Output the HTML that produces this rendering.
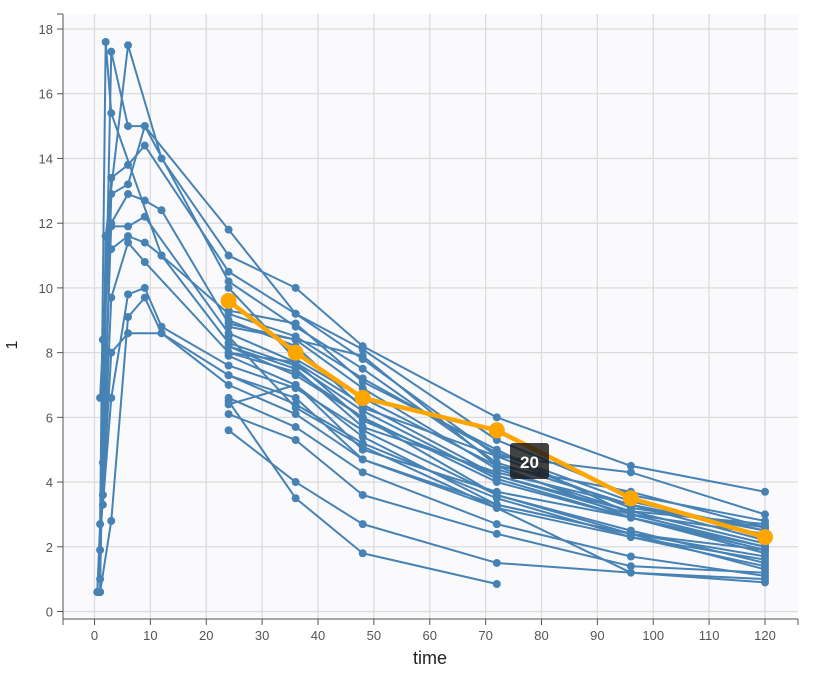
<!DOCTYPE html>
<html><head><meta charset="utf-8"><style>
body{margin:0;background:#fff;font-family:"Liberation Sans",sans-serif}
svg text{font-family:"Liberation Sans",sans-serif}
</style></head><body>
<svg id="chart" width="818" height="675">
<rect x="63" y="14" width="735" height="605" fill="#fafafd"/>
<g id="grid"></g>
<g id="axes"></g>
<g id="series"></g>
<g id="hl"></g>
<g><rect x="510" y="443" width="39" height="36" rx="3" fill="rgba(20,20,20,0.8)"/><text x="529.5" y="468" text-anchor="middle" fill="#fff" font-size="17" font-weight="bold">20</text></g>
<text x="430" y="664" text-anchor="middle" font-size="18" fill="#222">time</text>
<text x="17" y="345" text-anchor="middle" font-size="16" fill="#222" transform="rotate(-90 17 345)">1</text>
</svg>
<script>
const times=[0.5,1,1.5,2,3,6,9,12,24,36,48,72,96,120];
const xTicks=[0,10,20,30,40,50,60,70,80,90,100,110,120];
const yTicks=[0,2,4,6,8,10,12,14,16,18];
const N=null;
const subjects=[
[0.6,2.7,N,17.6,15.4,N,N,11.0,9.2,8.5,7.2,4.9,3.4,2.5],
[N,1.0,N,N,17.3,15.0,15.0,N,11.8,9.2,8.1,5.3,3.6,2.8],
[N,0.6,N,11.6,N,17.5,N,14.0,11.0,10.0,8.2,6.0,4.5,3.7],
[N,6.6,N,N,13.4,13.8,14.4,N,10.5,9.2,7.8,4.8,3.2,2.6],
[N,N,3.6,N,12.9,13.2,15.0,N,10.2,8.8,7.5,4.6,3.3,2.2],
[N,N,4.6,N,12.0,12.9,12.7,12.4,8.9,8.4,6.9,4.4,3.1,2.1],
[N,N,8.4,N,11.9,11.9,12.2,N,8.6,7.7,6.4,4.2,3.0,2.0],
[N,N,N,11.6,11.2,11.6,11.4,11.0,8.3,7.6,6.2,4.1,2.9,1.9],
[N,1.9,N,N,9.7,11.4,10.8,N,8.0,7.4,6.0,4.0,2.9,1.8],
[N,N,3.3,N,6.6,9.8,10.0,8.8,7.6,6.9,5.6,3.6,2.4,1.7],
[N,0.6,N,N,2.8,9.1,9.7,8.6,7.3,6.4,5.2,3.5,2.3,1.4],
[0.6,N,N,N,8.0,8.6,N,8.6,7.0,6.1,4.7,3.3,2.4,1.3],
[N,N,N,N,N,N,N,N,6.6,5.7,4.3,2.7,1.7,1.1],
[N,N,N,N,N,N,N,N,6.4,7.0,5.4,3.3,2.4,1.9],
[N,N,N,N,N,N,N,N,6.1,5.3,3.6,2.4,1.4,1.2],
[N,N,N,N,N,N,N,N,5.6,4.0,2.7,1.5,N,0.9],
[N,N,N,N,N,N,N,N,6.5,3.5,1.8,0.85,N,N],
[N,N,N,N,N,N,N,N,8.8,8.4,7.9,4.5,3.7,2.6],
[N,N,N,N,N,N,N,N,8.0,7.7,5.9,4.2,3.1,2.7],
[N,N,N,N,N,N,N,N,7.9,7.0,5.0,3.7,2.9,2.0],
[N,N,N,N,N,N,N,N,8.2,7.5,5.7,4.3,3.3,2.5],
[N,N,N,N,N,N,N,N,9.0,8.2,6.3,4.8,4.3,3.0],
[N,N,N,N,N,N,N,N,7.3,6.6,4.7,3.2,1.2,1.0],
[N,N,N,N,N,N,N,N,8.5,6.3,5.1,3.2,2.3,1.6],
[N,N,N,N,N,N,N,N,10.0,7.8,6.6,4.5,2.9,1.9],
[N,N,N,N,N,N,N,N,9.3,8.9,7.1,5.0,3.0,2.4],
[N,N,N,N,N,N,N,N,8.2,7.3,6.0,3.6,2.5,1.5]
];
const highlight=[N,N,N,N,N,N,N,N,9.6,8.0,6.6,5.6,3.5,2.3];
const NS="http://www.w3.org/2000/svg";
const X=t=>94.5+t*5.5875, Y=v=>611.5-v*32.36;
function mk(tag,attrs,parent){const e=document.createElementNS(NS,tag);for(const k in attrs)e.setAttribute(k,attrs[k]);parent.appendChild(e);return e;}
const grid=document.getElementById('grid'),axes=document.getElementById('axes');
xTicks.forEach(t=>{
 const l=mk('line',{x1:X(t),x2:X(t),y1:14,y2:619,stroke:'#dcdcdc','stroke-width':1.3},grid);
 
 
 mk('line',{x1:X(t),x2:X(t),y1:619,y2:625,stroke:'#555'},axes);
 const tx=mk('text',{x:X(t),y:640,'text-anchor':'middle','font-size':13,fill:'#555'},axes);
 tx.textContent=t;
 
 
});
yTicks.forEach(v=>{
 const l=mk('line',{x1:63,x2:798,y1:Y(v),y2:Y(v),stroke:'#dcdcdc','stroke-width':1.3},grid);
 
 
 mk('line',{x1:57,x2:63,y1:Y(v),y2:Y(v),stroke:'#555'},axes);
 const tx=mk('text',{x:53,y:Y(v)+5,'text-anchor':'end','font-size':13,fill:'#555'},axes);
 tx.textContent=v;
 
 
});
mk('line',{x1:63,x2:63,y1:14,y2:619,stroke:'#555'},axes);
mk('line',{x1:57,x2:63,y1:14,y2:14,stroke:'#555'},axes);
mk('line',{x1:63,x2:798,y1:619,y2:619,stroke:'#555'},axes);
mk('line',{x1:798,x2:798,y1:619,y2:625,stroke:'#555'},axes);
mk('line',{x1:63,x2:63,y1:619,y2:625,stroke:'#555'},axes);
function draw(vals,g,color,w,r,name){
 const pts=[];vals.forEach((v,i)=>{if(v!==null)pts.push([X(times[i]),Y(v)]);});
 const pl=mk('polyline',{points:pts.map(p=>p.join(',')).join(' '),fill:'none',stroke:color,'stroke-width':w,'stroke-linejoin':'round'},g);
 
 
 pts.forEach(p=>{const c=mk('circle',{cx:p[0],cy:p[1],r:r,fill:color},g);
 
 });
}
const sg=document.getElementById('series');
subjects.forEach((s,i)=>draw(s,sg,'#4682b4',2,4,'subject-'+(i+1)));
draw(highlight,document.getElementById('hl'),'#ffa500',4.5,8,'subject-20');
</script>
</body></html>
